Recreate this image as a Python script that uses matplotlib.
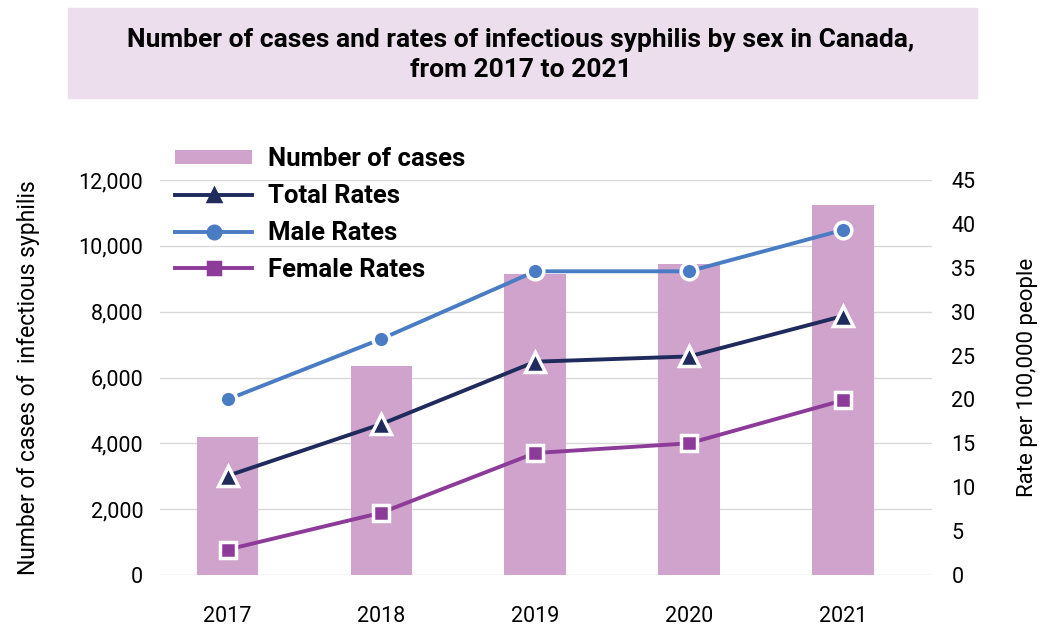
import matplotlib
matplotlib.use("Agg")
import matplotlib.pyplot as plt
from matplotlib.patches import Rectangle

plt.rcParams['font.family'] = ['Liberation Sans Narrow', 'Roboto', 'DejaVu Sans']

# data
years = ["2017", "2018", "2019", "2020", "2021"]
cases = [4200, 6350, 9150, 9450, 11250]
total_rates = [11.3, 17.2, 24.3, 24.9, 29.5]
male_rates = [20.0, 26.9, 34.6, 34.6, 39.3]
female_rates = [2.9, 7.1, 13.9, 15.0, 19.9]

x = list(range(len(years)))

fig = plt.figure(figsize=(10.41, 6.26), dpi=100)

# title box
fig.patches.append(Rectangle((68/1041, 1-98/626), (977-68)/1041, 90/626,
                             transform=fig.transFigure, color="#eddeed", zorder=0))
fig.text(0.5, 1-55/626, "Number of cases and rates of infectious syphilis by sex in Canada,\nfrom 2017 to 2021",
         ha="center", va="center", fontsize=19, fontweight="bold", linespacing=1.3)

ax = fig.add_axes([160/1041, 1-575/626, (932-160)/1041, (575-180)/626])
bars = ax.bar(x, cases, width=0.4, color="#cfa3cc", label="Number of cases", zorder=2)
ax.set_ylim(0, 12000)
ax.set_xlim(-0.44, 4.58)
ax.set_yticks(range(0, 12001, 2000))
ax.set_yticklabels([f"{v:,}" for v in range(0, 12001, 2000)])
ax.set_xticks(x)
ax.set_xticklabels(years)
ax.grid(axis="y", color="#d9d9d9", linewidth=1)
ax.set_axisbelow(True)
for s in ax.spines.values():
    s.set_visible(False)
ax.tick_params(length=0, labelsize=15.5, pad=12)
ax.tick_params(axis="x", pad=22)
ax.set_ylabel("Number of cases of  infectious syphilis", fontsize=16.5, labelpad=28)

ax2 = ax.twinx()
ax2.set_ylim(0, 45)
ax2.set_yticks(range(0, 46, 5))
for s in ax2.spines.values():
    s.set_visible(False)
ax2.tick_params(length=0, labelsize=15.5, pad=14)
ax2.set_ylabel("Rate per 100,000 people", fontsize=16, labelpad=30)

l1, = ax2.plot(x, total_rates, color="#1f2b5c", linewidth=2.8, marker="^", markersize=14,
               markeredgecolor="white", markeredgewidth=2.5, label="Total Rates")
l2, = ax2.plot(x, male_rates, color="#4a7cc4", linewidth=2.8, marker="o", markersize=12,
               markeredgecolor="white", markeredgewidth=2.5, label="Male Rates")
l3, = ax2.plot(x, female_rates, color="#8c3b98", linewidth=2.8, marker="s", markersize=12,
               markeredgecolor="white", markeredgewidth=2.5, label="Female Rates")

leg = fig.legend([bars, l1, l2, l3], ["Number of cases", "Total Rates", "Male Rates", "Female Rates"],
                 loc="upper left", bbox_to_anchor=(152/1041, 1-124/626), frameon=False,
                 prop={"size": 18.5, "weight": "bold"}, handlelength=3.0, handletextpad=0.6,
                 labelspacing=0.5, handleheight=0.5)
for h in leg.legend_handles[1:]:
    h.set_markeredgecolor(h.get_color())
    h.set_markersize(9)

plt.savefig("out.png", dpi=100)
